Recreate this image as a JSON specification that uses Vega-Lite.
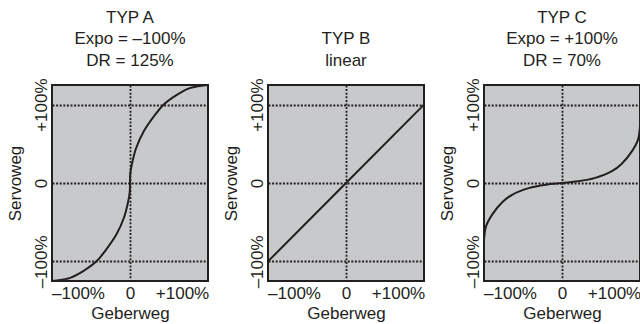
{
  "$schema": "https://vega.github.io/schema/vega-lite/v6.json",
  "padding": {"left": 5, "top": 7, "right": 0, "bottom": 0},
  "bounds": "flush",
  "spacing": 60,
  "config": {
    "font": "Liberation Sans",
    "view": {"fill": "#c8c9cb", "stroke": "#231f20", "strokeWidth": 2},
    "title": {"fontSize": 17, "fontWeight": "normal", "color": "#231f20", "lineHeight": 21.5, "anchor": "middle", "offset": 8, "font": "Liberation Sans"},
    "axis": {
      "domain": false, "ticks": false,
      "labelFontSize": 17, "titleFontSize": 17, "titleFontWeight": "normal",
      "labelColor": "#231f20", "titleColor": "#231f20", "labelFont": "Liberation Sans", "titleFont": "Liberation Sans",
      "gridColor": "#231f20", "gridDash": [2, 1.6], "gridWidth": 1.8, "gridOpacity": 1,
      "labelExpr": "datum.value === 0 ? '0' : (datum.value > 0 ? '+' + datum.value + '%' : '–' + abs(datum.value) + '%')"
    },
    "axisX": {"labelPadding": 4, "titlePadding": 4},
    "axisY": {"labelAngle": 270, "labelAlign": "center", "labelBaseline": "bottom", "labelPadding": 2, "titlePadding": 8}
  },
  "datasets": {
    "a": [
      {"geber": -150, "servo": -125}, {"geber": -141, "servo": -124.4}, {"geber": -115, "servo": -121},
      {"geber": -90, "servo": -112.4}, {"geber": -64, "servo": -99.6}, {"geber": -48, "servo": -86.8},
      {"geber": -26, "servo": -65.4}, {"geber": -11.5, "servo": -44}, {"geber": -3.2, "servo": -22.6},
      {"geber": -0.4, "servo": -11}, {"geber": 0, "servo": 0}, {"geber": 0.4, "servo": 11},
      {"geber": 3.2, "servo": 22.6}, {"geber": 11.5, "servo": 44}, {"geber": 26, "servo": 65.4},
      {"geber": 48, "servo": 86.8}, {"geber": 64, "servo": 99.6}, {"geber": 90, "servo": 112.4},
      {"geber": 115, "servo": 121}, {"geber": 141, "servo": 124.4}, {"geber": 150, "servo": 125}
    ],
    "b": [
      {"geber": -150, "servo": -100}, {"geber": 0, "servo": 0}, {"geber": 150, "servo": 100}
    ],
    "c": [
      {"geber": -150, "servo": -73}, {"geber": -146, "servo": -55}, {"geber": -134, "servo": -40},
      {"geber": -115, "servo": -24.6}, {"geber": -96, "servo": -15}, {"geber": -64, "servo": -6.5},
      {"geber": -31, "servo": -2.1}, {"geber": 0, "servo": 0}, {"geber": 31, "servo": 2.1},
      {"geber": 64, "servo": 6.5}, {"geber": 96, "servo": 15}, {"geber": 115, "servo": 24.6},
      {"geber": 134, "servo": 40}, {"geber": 146, "servo": 55}, {"geber": 150, "servo": 73}
    ]
  },
  "hconcat": [
    {
      "title": {"text": ["TYP A", "Expo = –100%", "DR = 125%"]},
      "width": 156, "height": 196,
      "data": {"name": "a"},
      "mark": {"type": "line", "interpolate": "catmull-rom", "color": "#231f20", "strokeWidth": 2},
      "encoding": {
        "x": {"field": "geber", "type": "quantitative", "title": "Geberweg", "scale": {"domain": [-150, 150], "nice": false},
              "axis": {"values": [-100, 0, 100], "gridOpacity": {"condition": {"test": "datum.value === 0", "value": 1}, "value": 0}}},
        "y": {"field": "servo", "type": "quantitative", "title": "Servoweg", "scale": {"domain": [-125, 125], "nice": false},
              "axis": {"values": [-100, 0, 100]}}
      }
    },
    {
      "title": {"text": ["TYP B", "linear"]},
      "width": 156, "height": 196,
      "data": {"name": "b"},
      "mark": {"type": "line", "color": "#231f20", "strokeWidth": 2},
      "encoding": {
        "x": {"field": "geber", "type": "quantitative", "title": "Geberweg", "scale": {"domain": [-150, 150], "nice": false},
              "axis": {"values": [-100, 0, 100], "gridOpacity": {"condition": {"test": "datum.value === 0", "value": 1}, "value": 0}}},
        "y": {"field": "servo", "type": "quantitative", "title": "Servoweg", "scale": {"domain": [-125, 125], "nice": false},
              "axis": {"values": [-100, 0, 100]}}
      }
    },
    {
      "title": {"text": ["TYP C", "Expo = +100%", "DR = 70%"]},
      "width": 156, "height": 196,
      "data": {"name": "c"},
      "mark": {"type": "line", "interpolate": "catmull-rom", "color": "#231f20", "strokeWidth": 2},
      "encoding": {
        "x": {"field": "geber", "type": "quantitative", "title": "Geberweg", "scale": {"domain": [-150, 150], "nice": false},
              "axis": {"values": [-100, 0, 100], "gridOpacity": {"condition": {"test": "datum.value === 0", "value": 1}, "value": 0}}},
        "y": {"field": "servo", "type": "quantitative", "title": "Servoweg", "scale": {"domain": [-125, 125], "nice": false},
              "axis": {"values": [-100, 0, 100]}}
      }
    }
  ]
}
